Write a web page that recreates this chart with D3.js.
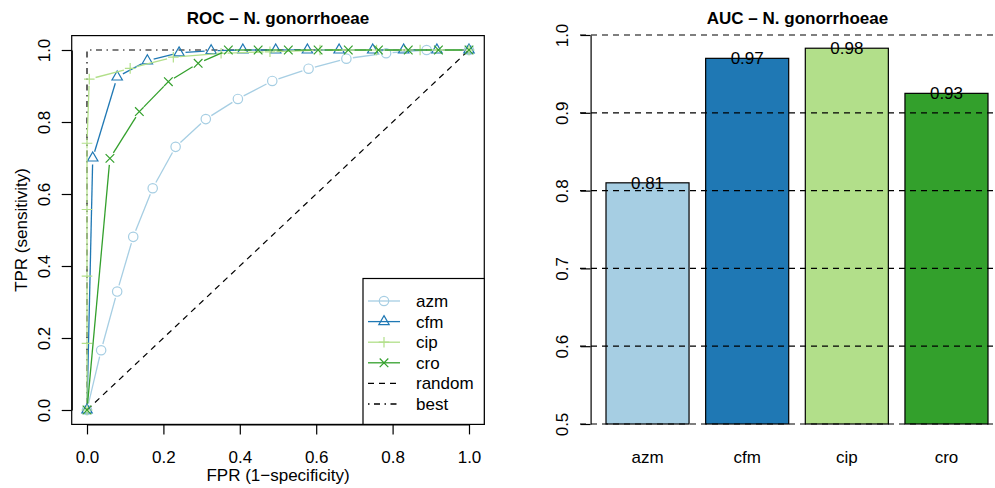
<!DOCTYPE html>
<html>
<head>
<meta charset="utf-8">
<script src="https://cdn.jsdelivr.net/npm/d3@7"></script>
<style>
  body { margin: 0; background: #fff; }
  svg { display: block; font-family: "Liberation Sans", Arial, Helvetica, sans-serif; }
</style>
</head>
<body>
<svg id="chart" width="995" height="488"></svg>
<script>
//Data
const drugs = ["azm", "cfm", "cip", "cro"];
const drugColors = ["#A6CEE3", "#1F78B4", "#B2DF8A", "#33A02C"];
const drugSymbols = ["circle", "triangle", "plus", "cross"];

const fprAzm = [0, 0.037, 0.079, 0.121, 0.172, 0.232, 0.311, 0.395, 0.485, 0.580, 0.679, 0.783, 0.889, 1.0];
const tprAzm = [0, 0.166, 0.329, 0.481, 0.616, 0.731, 0.808, 0.864, 0.914, 0.948, 0.976, 0.991, 1.0, 1.0];
const fprCfm = [0, 0.015, 0.079, 0.158, 0.241, 0.325, 0.408, 0.494, 0.577, 0.660, 0.748, 0.829, 0.916, 1.0];
const tprCfm = [0, 0.700, 0.925, 0.970, 0.992, 0.998, 1.0, 1.0, 1.0, 1.0, 1.0, 1.0, 1.0, 1.0];
const fprCip = [0, 0, 0, 0, 0, 0.006, 0.113, 0.226, 0.351, 0.479, 0.610, 0.758, 0.872, 1.0];
const tprCip = [0, 0.185, 0.372, 0.557, 0.741, 0.919, 0.949, 0.980, 0.991, 0.995, 1.0, 1.0, 1.0, 1.0];
const fprCro = [0, 0.060, 0.137, 0.213, 0.291, 0.370, 0.448, 0.527, 0.605, 0.684, 0.763, 0.841, 0.920, 1.0];
const tprCro = [0, 0.699, 0.829, 0.912, 0.963, 1.0, 1.0, 1.0, 1.0, 1.0, 1.0, 1.0, 1.0, 1.0];

const rocFpr = [fprAzm, fprCfm, fprCip, fprCro];
const rocTpr = [tprAzm, tprCfm, tprCip, tprCro];

const randomLine = [[0, 0], [1, 1]];
const bestLine = [[0, 0], [0, 1], [1, 1]];

const aucValues = [0.810, 0.970, 0.983, 0.925];
const aucLabels = ["0.81", "0.97", "0.98", "0.93"];

const rocTicks = [0, 0.2, 0.4, 0.6, 0.8, 1.0];
const aucTicks = [0.5, 0.6, 0.7, 0.8, 0.9, 1.0];

const legendLabels = ["azm", "cfm", "cip", "cro", "random", "best"];

//Set to select SVG DOM
let svg = d3.select("#chart");
const fontSize = 17;
const dashLty = "6,5";
const dotDashLty = "1.5,4.5,6,4.5";

// ---------------- Left panel: ROC ----------------
let x = d3.scaleLinear().domain([0, 1]).range([87, 469]);
let y = d3.scaleLinear().domain([0, 1]).range([410, 50]);
let boxLeft = x(-0.04), boxRight = x(1.04), boxTop = y(1.04), boxBottom = y(-0.04);

let roc = svg.append("g");

//Axes
let xAxis = roc.append("g")
    .attr("transform", "translate(0," + boxBottom + ")")
    .call(d3.axisBottom(x).tickValues(rocTicks).tickFormat(d3.format(".1f")).tickSize(10).tickSizeOuter(0));
xAxis.selectAll("text").attr("y", 39).attr("dy", 0);

let yAxis = roc.append("g")
    .attr("transform", "translate(" + boxLeft + ",0)")
    .call(d3.axisLeft(y).tickValues(rocTicks).tickFormat(d3.format(".1f")).tickSize(10).tickSizeOuter(0));
yAxis.selectAll("text")
    .attr("transform", "rotate(-90)")
    .attr("x", 0).attr("y", -21.5).attr("dy", 0)
    .attr("text-anchor", "middle");

[xAxis, yAxis].forEach(a => {
    a.attr("font-size", fontSize).attr("font-family", null);
    a.selectAll("line, path").attr("stroke", "#000").attr("stroke-width", 1.2);
    a.selectAll("text").attr("fill", "#000");
});

//Reference lines: best and random
let line = d3.line().x(d => x(d[0])).y(d => y(d[1]));
roc.append("path").datum(bestLine)
    .attr("d", line).attr("fill", "none").attr("stroke", "#000")
    .attr("stroke-width", 1.2).attr("stroke-dasharray", dotDashLty);
roc.append("path").datum(randomLine)
    .attr("d", line).attr("fill", "none").attr("stroke", "#000")
    .attr("stroke-width", 1.2).attr("stroke-dasharray", dashLty);

//Marker shapes like R pch 1,2,3,4
function marker(sel, kind, color) {
    if (kind === "circle") {
        sel.append("circle").attr("r", 4.7).attr("fill", "none").attr("stroke", color).attr("stroke-width", 1.2);
    } else if (kind === "triangle") {
        sel.append("path").attr("d", "M0,-6L5.2,3L-5.2,3Z").attr("fill", "none").attr("stroke", color).attr("stroke-width", 1.2);
    } else if (kind === "plus") {
        sel.append("path").attr("d", "M-5.3,0H5.3M0,-5.3V5.3").attr("stroke", color).attr("stroke-width", 1.2);
    } else {
        sel.append("path").attr("d", "M-4.3,-4.3L4.3,4.3M-4.3,4.3L4.3,-4.3").attr("stroke", color).attr("stroke-width", 1.2);
    }
}

//Series drawn as type "b": segments with a gap round each point
const gap = 6.5;
drugs.forEach((drug, i) => {
    let pts = rocFpr[i].map((f, k) => [x(f), y(rocTpr[i][k])]);
    let segs = d3.pairs(pts).filter(p => Math.hypot(p[1][0] - p[0][0], p[1][1] - p[0][1]) > 2 * gap);
    let g = roc.append("g");
    g.selectAll("line")
        .data(segs)
        .enter().append("line")
        .each(function (p) {
            let dx = p[1][0] - p[0][0], dy = p[1][1] - p[0][1];
            let len = Math.hypot(dx, dy), ux = dx / len, uy = dy / len;
            d3.select(this)
                .attr("x1", p[0][0] + ux * gap).attr("y1", p[0][1] + uy * gap)
                .attr("x2", p[1][0] - ux * gap).attr("y2", p[1][1] - uy * gap);
        })
        .attr("stroke", drugColors[i]).attr("stroke-width", 1.3);
    g.selectAll(".pt")
        .data(pts)
        .enter().append("g")
        .attr("class", "pt")
        .attr("transform", d => "translate(" + d + ")")
        .each(function () { marker(d3.select(this), drugSymbols[i], drugColors[i]); });
});

//Plot box
roc.append("rect")
    .attr("x", boxLeft).attr("y", boxTop)
    .attr("width", boxRight - boxLeft).attr("height", boxBottom - boxTop)
    .attr("fill", "none").attr("stroke", "#000").attr("stroke-width", 1.2);

//Legend
let leg = roc.append("g");
leg.append("rect")
    .attr("x", 363).attr("y", 278.5)
    .attr("width", boxRight - 363).attr("height", boxBottom - 278.5)
    .attr("fill", "#fff").attr("stroke", "#000").attr("stroke-width", 1.2);
legendLabels.forEach((lab, i) => {
    let ly = 301 + i * 20.6;
    let item = leg.append("g").attr("transform", "translate(0," + ly + ")");
    let col = i < 4 ? drugColors[i] : "#000";
    item.append("line").attr("x1", 368).attr("x2", 400).attr("y1", 0).attr("y2", 0)
        .attr("stroke", col).attr("stroke-width", 1.3)
        .attr("stroke-dasharray", i === 4 ? dashLty : i === 5 ? dotDashLty : null);
    if (i < 4) marker(item.append("g").attr("transform", "translate(384,0)"), drugSymbols[i], col);
    item.append("text").attr("x", 416).attr("y", 6)
        .attr("font-size", fontSize).text(lab);
});

//Titles
roc.append("text").attr("x", (boxLeft + boxRight) / 2).attr("y", 24)
    .attr("text-anchor", "middle").attr("font-size", fontSize).attr("font-weight", "bold")
    .text("ROC \u2013 N. gonorrhoeae");
roc.append("text").attr("x", (boxLeft + boxRight) / 2).attr("y", 481)
    .attr("text-anchor", "middle").attr("font-size", fontSize)
    .text("FPR (1\u2212specificity)");
roc.append("text")
    .attr("transform", "translate(27," + (boxTop + boxBottom) / 2 + ") rotate(-90)")
    .attr("text-anchor", "middle").attr("font-size", fontSize)
    .text("TPR (sensitivity)");

// ---------------- Right panel: AUC ----------------
let xb = d3.scaleBand().domain(drugs).range([606, 988]).paddingInner(1 / 6).paddingOuter(0);
let yb = d3.scaleLinear().domain([0.5, 1.0]).range([424, 35]);
const axisX = 590.6;

let auc = svg.append("g");

auc.selectAll(".bar")
    .data(aucValues)
    .enter().append("rect")
    .attr("class", "bar")
    .attr("x", (d, i) => xb(drugs[i]))
    .attr("width", xb.bandwidth())
    .attr("y", d => yb(d))
    .attr("height", d => yb(0.5) - yb(d))
    .attr("fill", (d, i) => drugColors[i])
    .attr("stroke", "#000").attr("stroke-width", 1.2);

let ybAxis = auc.append("g")
    .attr("transform", "translate(" + axisX + ",0)")
    .call(d3.axisLeft(yb).tickValues(aucTicks).tickFormat(d3.format(".1f")).tickSize(10).tickSizeOuter(0));
ybAxis.attr("font-size", fontSize).attr("font-family", null);
ybAxis.selectAll("line, path").attr("stroke", "#000").attr("stroke-width", 1.2);
ybAxis.selectAll("text")
    .attr("fill", "#000")
    .attr("transform", "rotate(-90)")
    .attr("x", 0).attr("y", -23).attr("dy", 0)
    .attr("text-anchor", "middle");

//Dashed grid drawn over the bars
auc.selectAll(".grid")
    .data(aucTicks)
    .enter().append("line")
    .attr("class", "grid")
    .attr("x1", 580).attr("x2", 995)
    .attr("y1", d => yb(d)).attr("y2", d => yb(d))
    .attr("stroke", "#000").attr("stroke-width", 1.2)
    .attr("stroke-dasharray", dashLty);

//Value labels
auc.selectAll(".val")
    .data(aucValues)
    .enter().append("text")
    .attr("class", "val")
    .attr("x", (d, i) => xb(drugs[i]) + xb.bandwidth() / 2)
    .attr("y", d => yb(d) + 6)
    .attr("text-anchor", "middle").attr("font-size", fontSize)
    .text((d, i) => aucLabels[i]);

//Category names
auc.selectAll(".cat")
    .data(drugs)
    .enter().append("text")
    .attr("class", "cat")
    .attr("x", d => xb(d) + xb.bandwidth() / 2)
    .attr("y", 463)
    .attr("text-anchor", "middle").attr("font-size", fontSize)
    .text(d => d);

auc.append("text").attr("x", 797.5).attr("y", 24)
    .attr("text-anchor", "middle").attr("font-size", fontSize).attr("font-weight", "bold")
    .text("AUC \u2013 N. gonorrhoeae");
</script>
</body>
</html>
